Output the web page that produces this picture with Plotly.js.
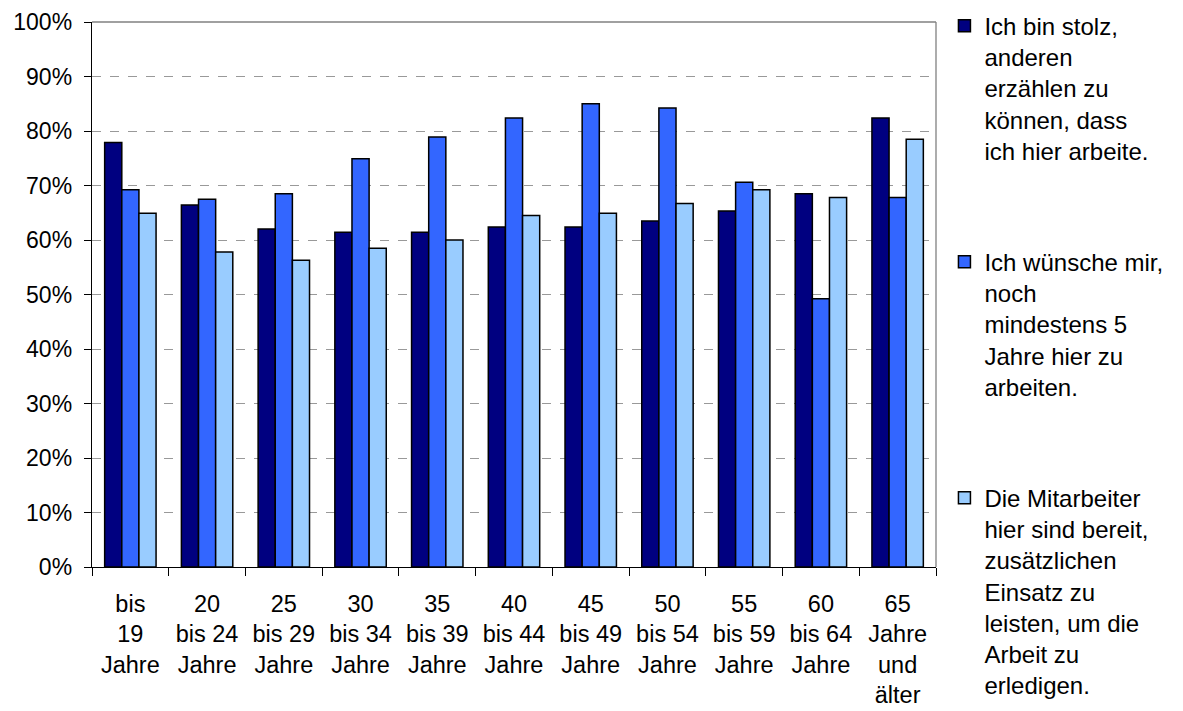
<!DOCTYPE html>
<html><head><meta charset="utf-8">
<script src="https://cdn.plot.ly/plotly-3.0.1.min.js"></script>
<style>html,body{margin:0;padding:0;background:#fff}</style>
</head><body>
<div id="chart" style="width:1183px;height:711px"></div>
<script>
const categories = ["bis<br>19<br>Jahre","20<br>bis 24<br>Jahre","25<br>bis 29<br>Jahre","30<br>bis 34<br>Jahre","35<br>bis 39<br>Jahre","40<br>bis 44<br>Jahre","45<br>bis 49<br>Jahre","50<br>bis 54<br>Jahre","55<br>bis 59<br>Jahre","60<br>bis 64<br>Jahre","65<br>Jahre<br>und<br>älter"];
const seriesNames = [
  "Ich bin stolz,<br>anderen<br>erzählen zu<br>können, dass<br>ich hier arbeite.",
  "Ich wünsche mir,<br>noch<br>mindestens 5<br>Jahre hier zu<br>arbeiten.",
  "Die Mitarbeiter<br>hier sind bereit,<br>zusätzlichen<br>Einsatz zu<br>leisten, um die<br>Arbeit zu<br>erledigen."
];
const stolz   = [77.9, 66.4, 62.0, 61.4, 61.4, 62.4, 62.4, 63.5, 65.3, 68.5, 82.4];
const bleiben = [69.2, 67.5, 68.5, 74.9, 78.9, 82.4, 85.0, 84.2, 70.6, 49.2, 67.8];
const einsatz = [64.9, 57.8, 56.3, 58.5, 60.0, 64.5, 64.9, 66.7, 69.2, 67.8, 78.5];
const yTicks = [0,10,20,30,40,50,60,70,80,90,100];
const yTickText = ["0%","10%","20%","30%","40%","50%","60%","70%","80%","90%","100%"];
const colors = ["#000080","#3366FF","#99CCFF"];

const seriesValues = [stolz, bleiben, einsatz];
const traces = seriesValues.map((vals, i) => ({
  type: "bar",
  x: categories,
  y: vals,
  name: seriesNames[i],
  legendgroup: "g" + i,
  marker: {color: colors[i], line: {color: "#000000", width: 1.5}},
  hoverinfo: "skip"
}));

const layout = {
  width: 1183, height: 711,
  margin: {l: 92, r: 247, t: 22, b: 144, autoexpand: false},
  paper_bgcolor: "#ffffff", plot_bgcolor: "#ffffff",
  font: {family: "Liberation Sans, Arial, sans-serif", size: 24, color: "#000000"},
  barmode: "group",
  bargap: 0.33,
  bargroupgap: 0,
  xaxis: {
    type: "category",
    showline: true, linecolor: "#000000", linewidth: 1.3,
    ticks: "outside", tickson: "boundaries", ticklen: 8, tickcolor: "#000000", tickwidth: 1,
    showgrid: false, zeroline: false,
    tickfont: {size: 23.5},
    ticklabelstandoff: 15,
    automargin: false
  },
  yaxis: {
    range: [0, 100],
    tickmode: "array",
    tickvals: yTicks,
    ticktext: yTickText,
    showline: true, linecolor: "#000000", linewidth: 1.3,
    ticks: "outside", ticklen: 7, tickcolor: "#000000",
    showgrid: true, gridcolor: "#999999", griddash: "dash", gridwidth: 1,
    zeroline: false,
    tickfont: {size: 23},
    ticklabelstandoff: 7,
    automargin: false
  },
  shapes: [
    {type: "line", xref: "paper", yref: "paper", x0: 0, x1: 1, y0: 1, y1: 1, line: {color: "#808080", width: 1.3}},
    {type: "line", xref: "paper", yref: "paper", x0: 1, x1: 1, y0: 0, y1: 1, line: {color: "#808080", width: 1.3}}
  ],
  legend: {
    x: 1.010, xanchor: "left",
    yref: "container", y: 0.995, yanchor: "top",
    valign: "top",
    tracegroupgap: 77,
    maxheight: 711,
    font: {size: 24},
    itemwidth: 30,
    bgcolor: "rgba(0,0,0,0)"
  },
  showlegend: true
};

Plotly.newPlot("chart", traces, layout, {displayModeBar: false, staticPlot: true});
</script>
</body></html>
